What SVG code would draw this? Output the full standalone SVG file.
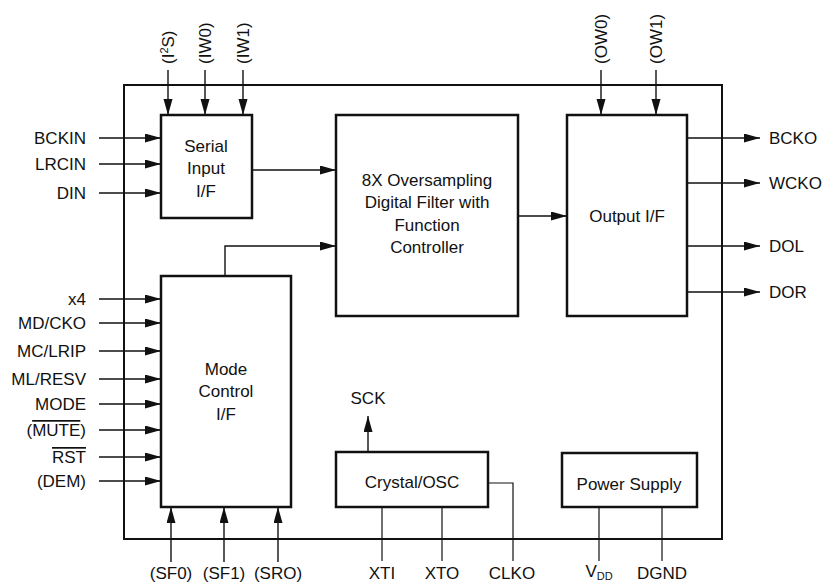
<svg xmlns="http://www.w3.org/2000/svg" width="824" height="584" viewBox="0 0 824 584">
<style>
text{font-family:"Liberation Sans",Arial,sans-serif;font-size:17px;fill:#111}
.box{fill:#fff;stroke:#111;stroke-width:2.5}
.outer{fill:none;stroke:#111;stroke-width:2}
.c{fill:none;stroke:#111;stroke-width:1.4}
.t{fill:none;stroke:#111;stroke-width:1.2}
.a{marker-end:url(#ah)}
.m{text-anchor:middle}
.e{text-anchor:end}
.ov{text-decoration:overline}
</style>
<defs>
<marker id="ah" markerUnits="userSpaceOnUse" markerWidth="17" markerHeight="10" refX="16" refY="4.5" orient="auto">
<path d="M0,0 L16,4.5 L0,9 z" fill="#111"/>
</marker>
</defs>
<rect class="outer" x="124" y="85" width="598" height="454"/>
<g id="connectors">
<line class="c a" x1="168" y1="70" x2="168" y2="115"/>
<line class="c a" x1="205" y1="70" x2="205" y2="115"/>
<line class="c a" x1="243" y1="70" x2="243" y2="115"/>
<line class="c a" x1="601" y1="70" x2="601" y2="115"/>
<line class="c a" x1="656" y1="70" x2="656" y2="115"/>
<line class="c a" x1="99" y1="138" x2="161" y2="138"/>
<line class="c a" x1="99" y1="164" x2="161" y2="164"/>
<line class="c a" x1="99" y1="193" x2="161" y2="193"/>
<line class="c a" x1="99" y1="299" x2="161" y2="299"/>
<line class="c a" x1="99" y1="323" x2="161" y2="323"/>
<line class="c a" x1="99" y1="351" x2="161" y2="351"/>
<line class="c a" x1="99" y1="379" x2="161" y2="379"/>
<line class="c a" x1="99" y1="404" x2="161" y2="404"/>
<line class="c a" x1="99" y1="430" x2="161" y2="430"/>
<line class="c a" x1="99" y1="457" x2="161" y2="457"/>
<line class="c a" x1="99" y1="481" x2="161" y2="481"/>
<line class="c a" x1="252" y1="170" x2="336" y2="170"/>
<polyline class="c a" points="225,276 225,246 336,246"/>
<line class="c a" x1="518" y1="216" x2="567" y2="216"/>
<line class="c a" x1="687" y1="138" x2="760" y2="138"/>
<line class="c a" x1="687" y1="183" x2="760" y2="183"/>
<line class="c a" x1="687" y1="246" x2="760" y2="246"/>
<line class="c a" x1="687" y1="292" x2="760" y2="292"/>
<line class="c a" x1="171" y1="562" x2="171" y2="507"/>
<line class="c a" x1="224" y1="562" x2="224" y2="507"/>
<line class="c a" x1="278" y1="562" x2="278" y2="507"/>
<line class="c a" x1="368" y1="452" x2="368" y2="416"/>
<line class="t" x1="382" y1="507" x2="382" y2="561"/>
<line class="t" x1="442" y1="507" x2="442" y2="561"/>
<polyline class="t" points="488,483 513,483 513,561"/>
<line class="t" x1="599" y1="507" x2="599" y2="561"/>
<line class="t" x1="662" y1="507" x2="662" y2="561"/>
</g>
<g id="serial-input">
<rect class="box" x="161" y="115" width="91" height="103"/>
<text class="m" x="206" y="152">Serial</text>
<text class="m" x="206" y="174">Input</text>
<text class="m" x="206" y="197">I/F</text>
</g>
<g id="digital-filter">
<rect class="box" x="336" y="115" width="182" height="201"/>
<text class="m" x="427" y="186">8X Oversampling</text>
<text class="m" x="427" y="208">Digital Filter with</text>
<text class="m" x="427" y="231">Function</text>
<text class="m" x="427" y="253">Controller</text>
</g>
<g id="output-if">
<rect class="box" x="567" y="115" width="120" height="201"/>
<text class="m" x="627" y="222">Output I/F</text>
</g>
<g id="mode-control">
<rect class="box" x="161" y="276" width="130" height="231"/>
<text class="m" x="226" y="375">Mode</text>
<text class="m" x="226" y="397">Control</text>
<text class="m" x="226" y="420">I/F</text>
</g>
<g id="crystal-osc">
<rect class="box" x="336" y="452" width="152" height="55"/>
<text class="m" x="412" y="488">Crystal/OSC</text>
</g>
<g id="power-supply">
<rect class="box" x="562" y="453" width="135" height="54"/>
<text class="m" x="629" y="490">Power Supply</text>
</g>
<g id="labels">
<text transform="translate(174,64) rotate(-90)">(I<tspan dy="-6" font-size="11">2</tspan><tspan dy="6">S)</tspan></text>
<text transform="translate(211,64) rotate(-90)">(IW0)</text>
<text transform="translate(249,64) rotate(-90)">(IW1)</text>
<text transform="translate(607,64) rotate(-90)">(OW0)</text>
<text transform="translate(662,64) rotate(-90)">(OW1)</text>
<text class="e" x="86" y="144">BCKIN</text>
<text class="e" x="86" y="170">LRCIN</text>
<text class="e" x="86" y="199">DIN</text>
<text class="e" x="86" y="305">x4</text>
<text class="e" x="86" y="329">MD/CKO</text>
<text class="e" x="86" y="357">MC/LRIP</text>
<text class="e" x="86" y="385">ML/RESV</text>
<text class="e" x="86" y="410">MODE</text>
<text class="e" x="86" y="436">(<tspan class="ov">MUTE</tspan>)</text>
<text class="e" x="86" y="463"><tspan class="ov">RST</tspan></text>
<text class="e" x="86" y="487">(DEM)</text>
<text x="769" y="144">BCKO</text>
<text x="769" y="189">WCKO</text>
<text x="769" y="252">DOL</text>
<text x="769" y="298">DOR</text>
<text class="m" x="368" y="404">SCK</text>
<text class="m" x="171" y="579">(SF0)</text>
<text class="m" x="224" y="579">(SF1)</text>
<text class="m" x="278" y="579">(SRO)</text>
<text class="m" x="382" y="579">XTI</text>
<text class="m" x="442" y="579">XTO</text>
<text class="m" x="512" y="579">CLKO</text>
<text class="m" x="599" y="577">V<tspan dy="3" font-size="11">DD</tspan></text>
<text class="m" x="662" y="579">DGND</text>
</g>
</svg>
